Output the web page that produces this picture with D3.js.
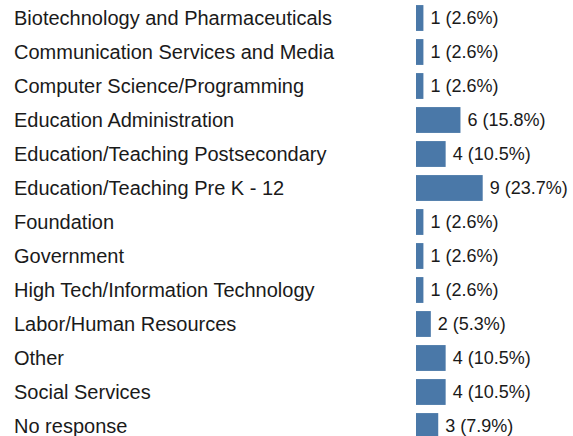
<!DOCTYPE html>
<html>
<head>
<meta charset="utf-8">
<script src="https://cdn.jsdelivr.net/npm/d3@7"></script>
<style>
  body { margin: 0; background: #fff; }
  svg text { font-family: "Liberation Sans", Arial, sans-serif; fill: #1a1a1a; }
</style>
</head>
<body>
<div id="chart"></div>
<script>
// categories and response counts
const categories = [
  "Biotechnology and Pharmaceuticals",
  "Communication Services and Media",
  "Computer Science/Programming",
  "Education Administration",
  "Education/Teaching Postsecondary",
  "Education/Teaching Pre K - 12",
  "Foundation",
  "Government",
  "High Tech/Information Technology",
  "Labor/Human Resources",
  "Other",
  "Social Services",
  "No response"
];
const counts = [1, 1, 1, 6, 4, 9, 1, 1, 1, 2, 4, 4, 3];
const percents = ["2.6%", "2.6%", "2.6%", "15.8%", "10.5%", "23.7%", "2.6%", "2.6%", "2.6%", "5.3%", "10.5%", "10.5%", "7.9%"];

const width = 573, height = 436;

const svg = d3.select("#chart").append("svg")
    .attr("width", width)
    .attr("height", height);

const rows = categories.map((c, i) => ({ name: c, value: counts[i], pct: percents[i] }));

const y = d3.scaleBand()
    .domain(categories)
    .range([1, 443])
    .paddingInner(0.24)
    .paddingOuter(0.12);

const x = d3.scaleLinear()
    .domain([0, 9])
    .range([416, 482.7]);

// category labels
svg.selectAll("text.cat")
   .data(rows)
   .enter().append("text")
   .attr("class", "cat")
   .attr("x", 14)
   .attr("y", d => y(d.name) + y.bandwidth() / 2)
   .attr("dy", "0.35em")
   .attr("font-size", "20px")
   .text(d => d.name);

// bars
svg.selectAll("rect")
   .data(rows)
   .enter().append("rect")
   .attr("x", x(0))
   .attr("y", d => y(d.name))
   .attr("width", d => x(d.value) - x(0))
   .attr("height", y.bandwidth())
   .attr("fill", "#4a78a8");

// value labels
svg.selectAll("text.val")
   .data(rows)
   .enter().append("text")
   .attr("class", "val")
   .attr("x", d => x(d.value) + 7)
   .attr("y", d => y(d.name) + y.bandwidth() / 2)
   .attr("dy", "0.35em")
   .attr("font-size", "18px")
   .text(d => `${d.value} (${d.pct})`);
</script>
</body>
</html>
